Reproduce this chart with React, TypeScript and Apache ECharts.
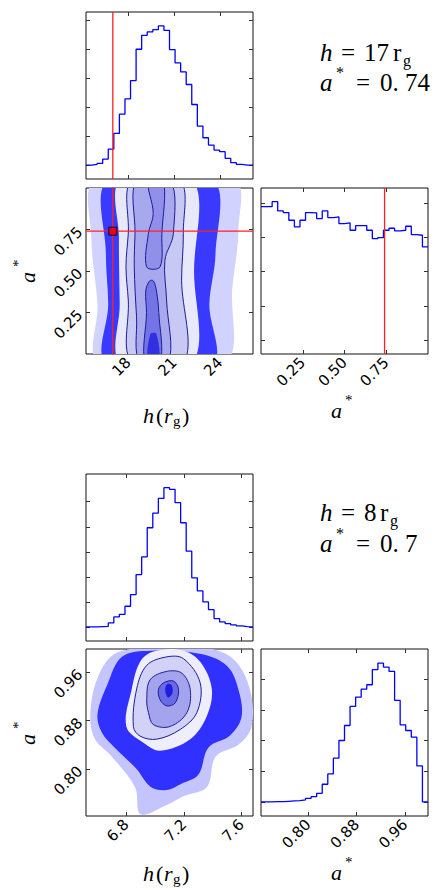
import { useEffect, useRef } from "react";
import * as echarts from "echarts";

// ---- upper corner plot (h = 17 rg, a* = 0.74) ----
const topHRange = [15.25, 26.15];
const topARange = [0, 1];
const topHTicks = [18, 21, 24];
const topATicks = [0.25, 0.5, 0.75];
const topHHist = [0, 2, 5, 18, 48, 95, 153, 199, 254, 348, 390, 400, 407, 418, 405, 347, 307, 280, 242, 182, 117, 82, 60, 45, 40, 20, 7, 2, 0, 0];
const topHHistTicks = [0, 87, 174, 261, 348, 435];
const topAHist = [401, 401, 416, 388, 383, 360, 340, 360, 383, 382, 365, 388, 368, 370, 350, 352, 330, 344, 344, 330, 305, 308, 330, 336, 328, 330, 342, 317, 315, 280];
const topAHistTicks = [0, 103, 206, 309, 412];
const trueH = 17;
const trueA = 0.74;

const topHalo = [[15.9, 1.05], [15.6, 0.7], [16.0, 0.3], [16.1, -0.05], [24.3, -0.05], [24.8, 0.4], [25.2, 0.75], [24.9, 1.05]];
const topCloud = [[16.7, 1.05], [16.55, 0.6], [16.7, 0.3], [16.6, -0.05], [23.5, -0.05], [23.3, 0.3], [23.7, 0.6], [23.5, 1.05]];
const topLevel0 = [[17.5, 1.05], [17.4, 0.7], [17.45, 0.3], [17.5, -0.05], [22.2, -0.05], [22.3, 0.5], [22.2, 1.05]];
const topLevel1 = [[18.23, 1.05], [18.01, 0.725], [17.86, 0.525], [18.01, 0.325], [18.23, -0.05], [21.64, -0.05], [21.49, 0.445], [21.6, 0.725], [21.38, 1.05]];
const topLevel2 = [[18.55, 1.05], [18.45, 0.725], [18.4, 0.525], [18.55, 0.224], [18.77, -0.05], [20.62, -0.05], [20.51, 0.325], [20.4, 0.565], [20.95, 0.725], [20.73, 1.05]];
const topLevel3 = [[19.4, 0.44], [19.15, 0.38], [19.2, 0.25], [19.1, -0.05], [20.1, -0.05], [20.0, 0.25], [19.85, 0.38], [19.65, 0.44]];
const topLevel3Top = [[19.32, 1.05], [19.64, 0.846], [19.32, 0.725], [19.21, 0.525], [20.08, 0.525], [20.2, 0.72], [20.29, 1.05]];
const topCore = [[19.45, 0.12], [19.3, -0.05], [20.0, -0.05], [19.85, 0.12]];

// ---- lower corner plot (h = 8 rg, a* = 0.7) ----
const botHRange = [6.52, 7.68];
const botARange = [0.722, 0.998];
const botHTicks = [6.8, 7.2, 7.6];
const botATicks = [0.8, 0.88, 0.96];
const botHHist = [0, 0, 1, 2, 12, 30, 38, 62, 97, 157, 210, 297, 341, 385, 417, 412, 372, 312, 227, 147, 108, 75, 52, 25, 15, 10, 6, 3, 1, 0];
const botHHistTicks = [0, 75, 150, 225, 300, 375];
const botAHist = [0, 0, 1, 1, 2, 3, 4, 6, 11, 16, 26, 53, 84, 131, 184, 229, 286, 314, 338, 351, 396, 416, 404, 391, 304, 231, 214, 194, 108, 0];
const botAHistTicks = [0, 92, 184, 276, 368];

const botHalo = [[6.55, 0.89], [6.6, 0.95], [6.72, 0.99], [6.95, 1.0], [7.35, 1.0], [7.55, 0.98], [7.66, 0.93], [7.67, 0.87], [7.58, 0.84], [7.42, 0.82], [7.36, 0.77], [7.2, 0.755], [7.08, 0.74], [6.9, 0.725], [6.86, 0.77], [6.7, 0.82], [6.58, 0.85]];
const botCloud = [[6.6, 0.89], [6.67, 0.94], [6.77, 0.985], [6.97, 0.995], [7.31, 0.99], [7.5, 0.97], [7.58, 0.93], [7.6, 0.885], [7.52, 0.855], [7.37, 0.835], [7.3, 0.79], [7.18, 0.775], [7.08, 0.765], [6.97, 0.77], [6.87, 0.8], [6.72, 0.835], [6.63, 0.86]];
const botLevel0 = [[6.8, 0.87], [6.838, 0.932], [6.896, 0.977], [6.988, 0.994], [7.186, 0.996], [7.313, 0.977], [7.394, 0.932], [7.359, 0.887], [7.244, 0.849], [7.035, 0.83], [6.919, 0.843]];
const botLevel1 = [[6.849, 0.87], [6.872, 0.932], [6.942, 0.971], [7.081, 0.985], [7.197, 0.982], [7.313, 0.942], [7.29, 0.893], [7.174, 0.865], [7.012, 0.849], [6.896, 0.854]];
const botLevel2 = [[6.942, 0.914], [6.965, 0.947], [7.081, 0.961], [7.186, 0.958], [7.244, 0.931], [7.221, 0.893], [7.105, 0.87], [6.988, 0.873], [6.954, 0.893]];
const botLevel3 = [[7.023, 0.931], [7.058, 0.942], [7.128, 0.945], [7.163, 0.931], [7.14, 0.909], [7.081, 0.904], [7.035, 0.914]];
const botCore = [[7.07, 0.93], [7.085, 0.94], [7.115, 0.938], [7.12, 0.925], [7.09, 0.918]];

const BLUE = "#0000ff";
const LINE = "#1c1c96";
const TICK_FONT = "DejaVu Sans";
const SERIF = "Liberation Serif";

type Box = { left: number; top: number; width: number; height: number };
const boxes: Box[] = [
  { left: 86, top: 12, width: 167, height: 167 },
  { left: 86, top: 188, width: 167, height: 166 },
  { left: 261, top: 188, width: 167, height: 166 },
  { left: 86, top: 474, width: 167, height: 167 },
  { left: 86, top: 649, width: 167, height: 167 },
  { left: 261, top: 649, width: 167, height: 167 },
];

function histData(vals: number[], range: number[]) {
  const w = (range[1] - range[0]) / vals.length;
  const d = vals.map((v, i) => [range[0] + i * w, v]);
  d.push([range[1], vals[vals.length - 1]]);
  return d;
}

function poly(gi: number, pts: number[][], fill: string, stroke?: string, z = 1) {
  return {
    type: "custom",
    xAxisIndex: gi,
    yAxisIndex: gi,
    data: [0],
    clip: true,
    silent: true,
    z,
    renderItem: (_p: any, api: any) => ({
      type: "polygon",
      shape: { points: pts.map((q) => api.coord(q)), smooth: 0.35 },
      style: { fill, stroke: stroke || "none", lineWidth: 1 },
    }),
  };
}

function vline(gi: number, x: number, y0: number, y1: number) {
  return {
    type: "line", xAxisIndex: gi, yAxisIndex: gi, data: [[x, y0], [x, y1]],
    showSymbol: false, lineStyle: { color: "#ff2020", width: 1.3 }, z: 10, silent: true,
  };
}

function text(x: number, y: number, s: string, size: number, italic = false, rot = 0) {
  return {
    type: "text", x, y, rotation: rot,
    style: { text: s, font: `${italic ? "italic " : ""}${size}px ${SERIF}`, fill: "#000", verticalAlign: "middle", align: "left" },
  };
}

export default function App() {
  const ref = useRef<HTMLDivElement>(null);
  useEffect(() => {
    if (!ref.current) return;
    const chart = echarts.init(ref.current, undefined, { renderer: "svg" });

    const axisSpec = [
      { x: topHRange, xt: topHTicks, xl: false, y: [-42, 460], yt: topHHistTicks, yl: false },
      { x: topHRange, xt: topHTicks, xl: true, y: topARange, yt: topATicks, yl: true },
      { x: topARange, xt: topATicks, xl: true, y: [-42, 457], yt: topAHistTicks, yl: false },
      { x: botHRange, xt: botHTicks, xl: false, y: [-42, 458], yt: botHHistTicks, yl: false },
      { x: botHRange, xt: botHTicks, xl: true, y: botARange, yt: botATicks, yl: true },
      { x: botARange, xt: botATicks, xl: true, y: [-42, 458], yt: botAHistTicks, yl: false },
    ];
    const fmt = (v: number) => (Math.abs(v) < 1 ? v.toFixed(2) : String(v));
    const tick = (vals: number[]) => ({ inside: true, length: 4, customValues: vals, lineStyle: { color: "#333" } });
    const label = (show: boolean, vals: number[]) => ({
      show, customValues: vals, rotate: 45, fontSize: 15, fontFamily: TICK_FONT, color: "#000", margin: 6, formatter: fmt,
    });
    const xAxis: any[] = [];
    const yAxis: any[] = [];
    const hidden = { show: false, onZero: false };
    axisSpec.forEach((s, i) => {
      xAxis.push({ type: "value", gridIndex: i, position: "bottom", min: s.x[0], max: s.x[1], splitLine: { show: false }, axisLine: hidden, axisTick: tick(s.xt), axisLabel: label(s.xl, s.xt) });
      yAxis.push({ type: "value", gridIndex: i, position: "left", min: s.y[0], max: s.y[1], splitLine: { show: false }, axisLine: hidden, axisTick: tick(s.yt), axisLabel: label(s.yl, s.yt) });
    });
    // mirrored ticks on the top and right edges
    axisSpec.forEach((s, i) => {
      xAxis.push({ type: "value", gridIndex: i, position: "top", min: s.x[0], max: s.x[1], splitLine: { show: false }, axisLine: hidden, axisTick: tick(s.xt), axisLabel: { show: false } });
      yAxis.push({ type: "value", gridIndex: i, position: "right", min: s.y[0], max: s.y[1], splitLine: { show: false }, axisLine: hidden, axisTick: tick(s.yt), axisLabel: { show: false } });
    });

    const hist = (gi: number, vals: number[], range: number[]) => ({
      type: "line", xAxisIndex: gi, yAxisIndex: gi, data: histData(vals, range), step: "end",
      showSymbol: false, lineStyle: { color: BLUE, width: 1.3 }, z: 5, silent: true,
    });

    const series: any[] = [
      hist(0, topHHist, topHRange),
      vline(0, trueH, -42, 460),
      poly(1, topHalo, "#d2d2ff", undefined, 1),
      poly(1, topCloud, "#3a3aff", undefined, 2),
      poly(1, topLevel0, "#e8e8fb", undefined, 3),
      poly(1, topLevel1, "#c8c8f5", LINE, 4),
      poly(1, topLevel2, "#a8a8ee", LINE, 5),
      poly(1, topLevel3Top, "#9090ea", LINE, 6),
      poly(1, topLevel3, "#7474e6", LINE, 6),
      poly(1, topCore, "#3030e0", undefined, 7),
      vline(1, trueH, -0.1, 1.1),
      { type: "line", xAxisIndex: 1, yAxisIndex: 1, data: [[topHRange[0], trueA], [topHRange[1], trueA]], showSymbol: false, lineStyle: { color: "#ff2020", width: 1.3 }, z: 10, silent: true },
      { type: "scatter", xAxisIndex: 1, yAxisIndex: 1, data: [[trueH, trueA]], symbol: "rect", symbolSize: 8, itemStyle: { color: "#ee0000", borderColor: "#000", borderWidth: 1 }, z: 11, silent: true },
      hist(2, topAHist, topARange),
      vline(2, trueA, -42, 457),
      hist(3, botHHist, botHRange),
      poly(4, botHalo, "#c4c4ff", undefined, 1),
      poly(4, botCloud, "#3030ff", undefined, 2),
      poly(4, botLevel0, "#eeeefd", undefined, 3),
      poly(4, botLevel1, "#d2d2f8", LINE, 4),
      poly(4, botLevel2, "#a4a4ee", LINE, 5),
      poly(4, botLevel3, "#6a6ae6", LINE, 6),
      poly(4, botCore, "#1e1ee0", undefined, 7),
      hist(5, botAHist, botARange),
    ];

    const graphic: any[] = [
      // annotations
      text(320, 52, "h", 25, true), text(341, 52, "=", 25), text(364, 52, "17", 25), text(393, 52, "r", 25), text(403, 60, "g", 16),
      text(320, 82, "a", 25, true), text(336, 72, "*", 16), text(356, 82, "=", 25), text(380, 82, "0. 74", 25),
      text(320, 512, "h", 25, true), text(341, 512, "=", 25), text(364, 512, "8", 25), text(380, 512, "r", 25), text(390, 520, "g", 16),
      text(320, 543, "a", 25, true), text(336, 533, "*", 16), text(356, 543, "=", 25), text(380, 543, "0. 7", 25),
      // axis titles, upper block
      text(143, 415, "h", 22, true), text(156, 415, "(", 22), text(164, 415, "r", 22, true), text(173, 421, "g", 15), text(182, 415, ")", 22),
      text(331, 410, "a", 22, true), text(345, 400, "*", 15),
      text(27, 283, "a", 22, true, Math.PI / 2), text(18, 267, "*", 15, false, Math.PI / 2),
      // axis titles, lower block
      text(143, 873, "h", 22, true), text(156, 873, "(", 22), text(164, 873, "r", 22, true), text(173, 879, "g", 15), text(182, 873, ")", 22),
      text(331, 872, "a", 22, true), text(345, 862, "*", 15),
      text(27, 745, "a", 22, true, Math.PI / 2), text(18, 729, "*", 15, false, Math.PI / 2),
    ];

    chart.setOption({
      animation: false,
      grid: boxes.map((b) => ({ ...b, show: true, borderColor: "#111", borderWidth: 1, backgroundColor: "transparent" })),
      xAxis,
      yAxis,
      series,
      graphic,
    });
    return () => chart.dispose();
  }, []);
  return <div ref={ref} style={{ position: "absolute", left: 0, top: 0, width: 436, height: 890, background: "#fff" }} />;
}
